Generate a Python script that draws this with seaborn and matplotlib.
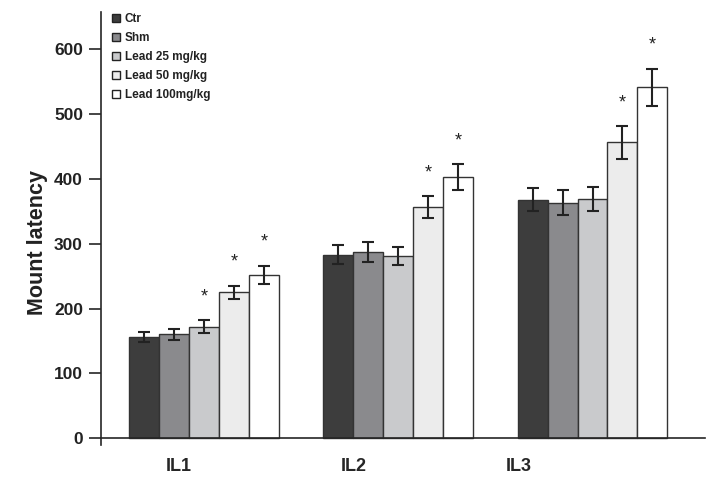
import numpy as np
import pandas as pd
import seaborn as sns
import matplotlib.pyplot as plt

sns.set_style("ticks")
plt.rcParams["font.family"] = ["Liberation Sans", "DejaVu Sans"]
plt.rcParams["font.weight"] = "bold"

# data
stages = ["IL1", "IL2", "IL3"]
groups = ["Ctr", "Shm", "Lead 25 mg/kg", "Lead 50 mg/kg", "Lead 100mg/kg"]
ctr = [156, 283, 368]
shm = [160, 287, 363]
lead25 = [172, 281, 369]
lead50 = [225, 356, 456]
lead100 = [252, 403, 541]
ctr_err = [8, 15, 18]
shm_err = [9, 15, 19]
lead25_err = [10, 14, 19]
lead50_err = [10, 17, 25]
lead100_err = [14, 20, 29]
# significance stars (group, stage)
stars = [("Lead 25 mg/kg", "IL1"), ("Lead 50 mg/kg", "IL1"), ("Lead 100mg/kg", "IL1"),
         ("Lead 50 mg/kg", "IL2"), ("Lead 100mg/kg", "IL2"),
         ("Lead 50 mg/kg", "IL3"), ("Lead 100mg/kg", "IL3")]

means = [ctr, shm, lead25, lead50, lead100]
errs = [ctr_err, shm_err, lead25_err, lead50_err, lead100_err]
rows = []
for g, m, e in zip(groups, means, errs):
    for s, v, sd in zip(stages, m, e):
        rows.append({"stage": s, "group": g, "latency": v, "err": sd})
df = pd.DataFrame(rows)

colors = ["#3d3d3d", "#8a8a8d", "#c9cacc", "#ececec", "#ffffff"]

fig = plt.figure(figsize=(7.27, 4.86), dpi=100)
ax = fig.add_axes([0.139, 0.085, 0.831, 0.89])

sns.barplot(data=df, x="stage", y="latency", hue="group", hue_order=groups,
            order=stages, palette=colors, width=0.77, gap=0, errorbar=None,
            edgecolor="#333333", linewidth=1, ax=ax)

for cont, g in zip(ax.containers, groups):
    sub = df[df.group == g].set_index("stage").loc[stages]
    xs = [b.get_x() + b.get_width() / 2 for b in cont]
    ax.errorbar(xs, sub["latency"], yerr=sub["err"], fmt="none", ecolor="#222222",
                elinewidth=1.5, capsize=4, capthick=1.5)
    for x, s, v, e in zip(xs, stages, sub["latency"], sub["err"]):
        if (g, s) in stars:
            ax.text(x, v + e + 36, "*", ha="center", va="center",
                    fontsize=13, fontweight="normal", color="#222222")

ax.set_xlim(-0.53, 2.58)
ax.set_ylim(-10, 657)
ax.set_yticks([0, 100, 200, 300, 400, 500, 600])
ax.set_xticks(np.arange(3) + np.array([-0.13, -0.23, -0.38]))
ax.set_xticklabels(stages)
ax.tick_params(axis="x", length=0, pad=14, labelsize=13)
ax.tick_params(axis="y", length=9, width=1.2, labelsize=12.5, pad=4)
for lab in ax.get_yticklabels() + ax.get_xticklabels():
    lab.set_fontweight("bold")
    lab.set_color("#222222")
ax.set_xlabel("")
ax.set_ylabel("Mount latency", fontsize=15.5, fontweight="bold", color="#222222")
ax.yaxis.set_label_coords(-0.087, 0.468)

for side in ["top", "right"]:
    ax.spines[side].set_visible(False)
ax.spines["bottom"].set_position(("data", 0))
ax.spines["left"].set_linewidth(1.2)
ax.spines["bottom"].set_linewidth(1.2)

leg = ax.legend(loc="upper left", bbox_to_anchor=(0.018, 0.998), frameon=False,
                fontsize=8.5, handlelength=0.7, handleheight=0.7,
                handletextpad=0.4, labelspacing=0.6, borderpad=0, borderaxespad=0)
for h in leg.legend_handles:
    h.set_edgecolor("#222222")
for t in leg.get_texts():
    t.set_fontweight("bold")
    t.set_color("#222222")

fig.savefig("out.png", dpi=100)
